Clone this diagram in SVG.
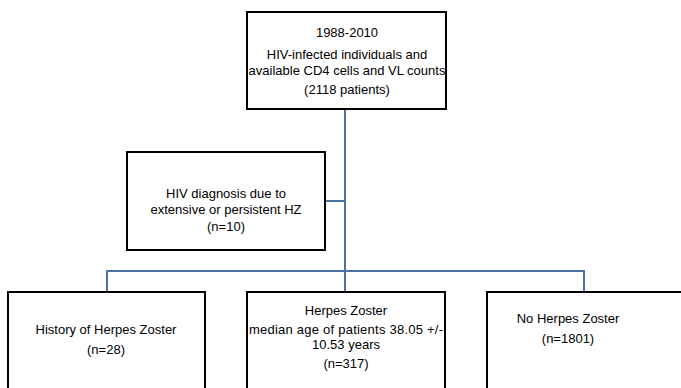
<svg xmlns="http://www.w3.org/2000/svg" width="681" height="388" viewBox="0 0 681 388">
<style>
.box{fill:#fff;stroke:#000;stroke-width:2}
.con{fill:none;stroke:#4a72a6;stroke-width:2}
text{font-family:"Liberation Sans",Arial,sans-serif;font-size:13px;fill:#000;text-anchor:middle}
</style>
<rect width="681" height="388" fill="#fff"/>
<g id="connectors">
<path class="con" d="M345 109 V271"/>
<path class="con" d="M326 201 H345"/>
<path class="con" d="M107 292 V271 H584 V292"/>
<path class="con" d="M345 271 V292"/>
</g>
<g id="top">
<rect class="box" x="247" y="12" width="199" height="97"/>
<text x="347" y="37">1988-2010</text>
<text x="347" y="59">HIV-infected individuals and</text>
<text x="347" y="75">available CD4 cells and VL counts</text>
<text x="347" y="94">(2118 patients)</text>
</g>
<g id="diag">
<rect class="box" x="127" y="152" width="198" height="98"/>
<text x="226" y="198">HIV diagnosis due to</text>
<text x="226" y="214">extensive or persistent HZ</text>
<text x="226" y="231">(n=10)</text>
</g>
<g id="history">
<rect class="box" x="8" y="292" width="197" height="110"/>
<text x="106" y="334">History of Herpes Zoster</text>
<text x="106" y="354">(n=28)</text>
</g>
<g id="hz">
<rect class="box" x="247" y="292" width="198" height="110"/>
<text x="346" y="315">Herpes Zoster</text>
<text x="346" y="334" textLength="194" lengthAdjust="spacing">median age of patients 38.05 +/-</text>
<text x="346" y="349">10.53 years</text>
<text x="346" y="368">(n=317)</text>
</g>
<g id="nohz">
<rect class="box" x="487" y="292" width="200" height="110"/>
<text x="568" y="323">No Herpes Zoster</text>
<text x="568" y="343">(n=1801)</text>
</g>
</svg>
